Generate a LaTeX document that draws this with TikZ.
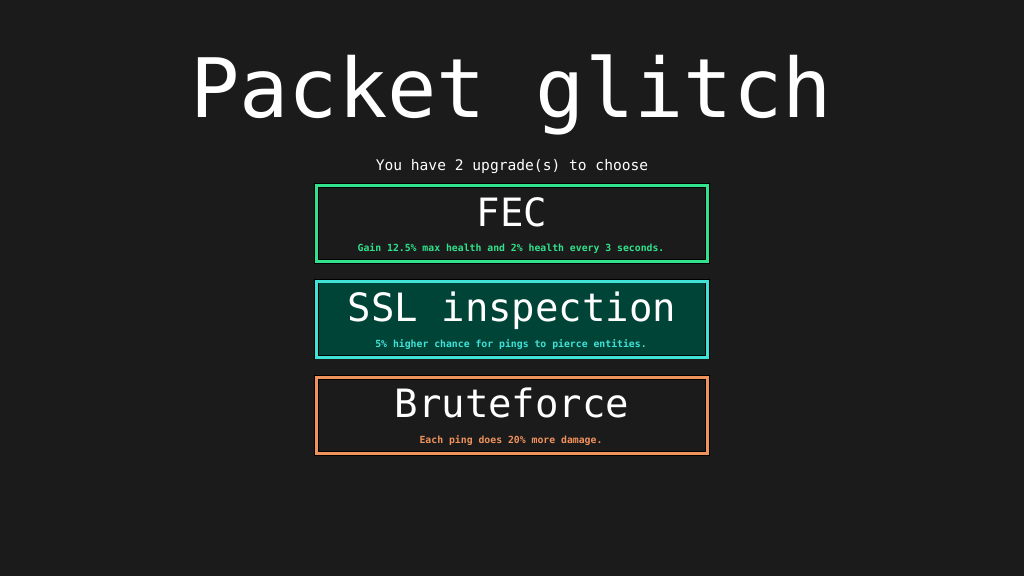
\documentclass[tikz,border=0pt]{standalone}
\usepackage{fontspec}
\setmainfont{DejaVu Sans Mono}
\definecolor{bgdark}{RGB}{27,27,27}
\definecolor{fecgreen}{RGB}{48,226,140}
\definecolor{sslcyan}{RGB}{64,226,214}
\definecolor{sslfill}{RGB}{0,68,56}
\definecolor{bforange}{RGB}{240,146,92}
\tikzset{
  cardbox/.style={draw=#1, line width=3pt, minimum width=391pt,
    minimum height=76pt, inner sep=0pt,
    preaction={draw=black, line width=4.6pt}},
  headtext/.style={text=white, anchor=base,
    font=\fontsize{39}{39}\selectfont},
  desctext/.style={text=#1, anchor=base,
    font=\fontsize{9.8}{9.8}\selectfont\bfseries},
}
\begin{document}
\begin{tikzpicture}[x=1pt,y=-1pt]
      \fill[bgdark] (0,0) rectangle (1024,576);
      \useasboundingbox (0,0) rectangle (1024,576);
      \draw
        (511,117.5) node[text=white, anchor=base,
          font=\fontsize{82}{82}\selectfont] (title){Packet glitch}
        (512,170) node[text=white, anchor=base,
          font=\fontsize{14.6}{14.6}\selectfont] (choose){You have 2 upgrade(s) to choose};
      % upgrade cards
      \node[cardbox=fecgreen] (fec) at (512,223.5) {};
      \node[preaction={fill=sslfill}, cardbox=sslcyan] (ssl) at (512,319) {};
      \node[cardbox=bforange] (brute) at (512,415.5) {};
      \begin{scope}
        \node[headtext] (fechead) at (512,226) {FEC};
        \node[headtext] (sslhead) at (512,321.5) {SSL inspection};
        \node[headtext] (brutehead) at (512,417.5) {Bruteforce};
        \node[desctext=fecgreen] (fecdesc) at (511,251)
          {Gain 12.5\% max health and 2\% health every 3 seconds.};
        \node[desctext=sslcyan] (ssldesc) at (511,347.3)
          {5\% higher chance for pings to pierce entities.};
        \node[desctext=bforange] (brutedesc) at (511,443)
          {Each ping does 20\% more damage.};
      \end{scope}
    \end{tikzpicture}
\end{document}
